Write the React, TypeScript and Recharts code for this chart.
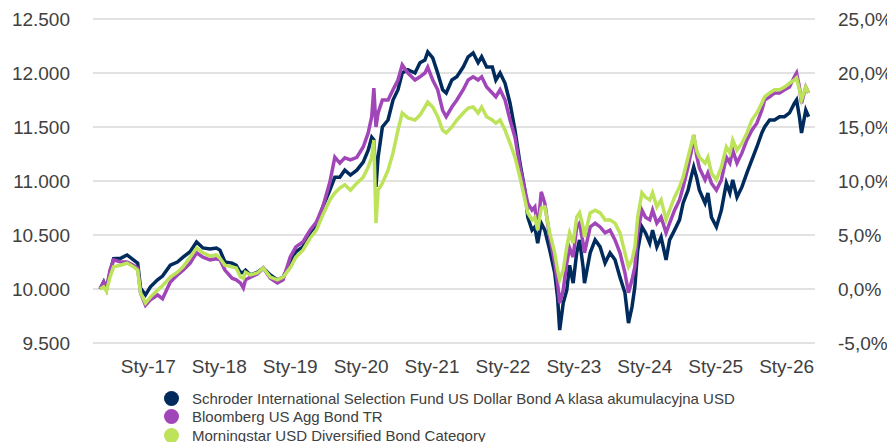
import React from "react"
import {
    LineChart,
    Line,
    XAxis,
    YAxis,
    CartesianGrid,
} from "recharts"

// decimal years
const dates = [
    2016.32, 2016.37, 2016.41, 2016.46, 2016.51, 2016.61, 2016.70, 2016.79, 2016.85, 2016.89,
    2016.96, 2017.03, 2017.13, 2017.20, 2017.31, 2017.41, 2017.49, 2017.59, 2017.68, 2017.77,
    2017.87, 2017.96, 2018.01, 2018.08, 2018.18, 2018.24, 2018.30, 2018.34, 2018.37, 2018.44,
    2018.54, 2018.62, 2018.72, 2018.82, 2018.90, 2019.00, 2019.08, 2019.18, 2019.28, 2019.37,
    2019.46, 2019.56, 2019.63, 2019.70, 2019.77, 2019.85, 2019.94, 2020.03, 2020.10, 2020.15,
    2020.18, 2020.21, 2020.24, 2020.30, 2020.38, 2020.45, 2020.52, 2020.58, 2020.66, 2020.76,
    2020.83, 2020.90, 2020.94, 2021.01, 2021.08, 2021.15, 2021.20, 2021.28, 2021.35, 2021.44,
    2021.51, 2021.58, 2021.65, 2021.70, 2021.77, 2021.85, 2021.90, 2021.96, 2022.03, 2022.10,
    2022.17, 2022.24, 2022.31, 2022.35, 2022.41, 2022.45, 2022.49, 2022.54, 2022.59, 2022.66,
    2022.73, 2022.77, 2022.80, 2022.85, 2022.90, 2022.94, 2022.99, 2023.04, 2023.08, 2023.13,
    2023.15, 2023.23, 2023.30, 2023.37, 2023.44, 2023.51, 2023.58, 2023.65, 2023.72, 2023.77,
    2023.82, 2023.86, 2023.90, 2023.96, 2024.01, 2024.07, 2024.11, 2024.17, 2024.23, 2024.30,
    2024.35, 2024.42, 2024.49, 2024.54, 2024.61, 2024.66, 2024.69, 2024.73, 2024.77, 2024.85,
    2024.89, 2024.94, 2025.01, 2025.08, 2025.15, 2025.20, 2025.24, 2025.30, 2025.37, 2025.44,
    2025.51, 2025.58, 2025.65, 2025.69, 2025.76, 2025.83, 2025.90, 2025.97, 2026.04, 2026.11,
    2026.14, 2026.18, 2026.21, 2026.27, 2026.31,
]

const schroder = [
    10000, 10065, 10000, 10155, 10280, 10285, 10315, 10270, 10240, 10010,
    9945, 10020, 10085, 10120, 10220, 10250, 10295, 10345, 10435, 10380,
    10370, 10380, 10360, 10250, 10240, 10220, 10150, 10155, 10175, 10130,
    10155, 10195, 10130, 10085, 10110, 10240, 10345, 10390, 10520, 10595,
    10760, 10915, 11035, 11035, 11100, 11055, 11100, 11175, 11285, 11405,
    11380, 10945, 11220, 11500, 11565, 11750, 11845, 12000, 12030, 12000,
    12095, 12120, 12195, 12140, 12000, 11845, 11815, 11935, 11965, 12055,
    12150, 12185, 12095, 12150, 12055, 12055, 11935, 12000, 11905, 11720,
    11470, 11165, 10915, 10665, 10545, 10575, 10425, 10610, 10545, 10360,
    10150, 9925, 9620, 9870, 9990, 10220, 10055, 10335, 10455, 10205,
    10055, 10335, 10455, 10390, 10240, 10335, 10270, 10110, 9965, 9685,
    9835, 10020, 10360, 10575, 10520, 10425, 10545, 10390, 10480, 10270,
    10455, 10545, 10640, 10795, 10915, 11055, 11130, 11035, 10915, 10795,
    10890, 10665, 10575, 10730, 10980, 10890, 11010, 10850, 10945, 11075,
    11195, 11315, 11445, 11500, 11565, 11565, 11595, 11595, 11630, 11720,
    11750, 11595, 11445, 11655, 11595,
]

const bloomberg = [
    10000, 10065, 10000, 10175, 10270, 10250, 10250, 10220, 10195, 9965,
    9850, 9900, 9945, 9910, 10065, 10130, 10175, 10240, 10335, 10295,
    10270, 10280, 10270, 10175, 10100, 10085, 10055, 10010, 10085, 10110,
    10140, 10195, 10100, 10055, 10085, 10295, 10390, 10435, 10545, 10620,
    10760, 10990, 11220, 11165, 11215, 11195, 11220, 11315, 11445, 11595,
    11860, 11500, 11630, 11750, 11750, 11845, 11935, 12075, 12000, 11935,
    11965, 12000, 12055, 11935, 11845, 11655, 11595, 11685, 11750, 11845,
    11935, 11965, 11935, 11965, 11870, 11815, 11780, 11845, 11750, 11565,
    11405, 11130, 10915, 10795, 10730, 10760, 10545, 10900, 10795, 10480,
    10240, 10055, 9870, 9990, 10240, 10380, 10295, 10575, 10610, 10425,
    10335, 10575, 10610, 10575, 10520, 10545, 10455, 10335, 10150, 9965,
    10085, 10205, 10520, 10730, 10665, 10640, 10730, 10610, 10665, 10520,
    10610, 10730, 10825, 10945, 11130, 11285, 11425, 11240, 11120, 11010,
    11075, 10980, 10915, 11010, 11220, 11165, 11285, 11165, 11260, 11380,
    11470, 11535, 11655, 11750, 11780, 11815, 11815, 11845, 11870, 11965,
    12000, 11870, 11720, 11870, 11815,
]

const morningstar = [
    10000, 10020, 9980, 10110, 10205, 10220, 10240, 10205, 10175, 9965,
    9870, 9925, 9990, 10030, 10110, 10155, 10205, 10295, 10380, 10335,
    10305, 10315, 10285, 10220, 10205, 10195, 10110, 10100, 10155, 10130,
    10150, 10195, 10110, 10085, 10110, 10195, 10295, 10360, 10470, 10545,
    10685, 10825, 10890, 10935, 10965, 10915, 10980, 11035, 11130, 11220,
    11380, 10610, 10915, 10980, 11100, 11260, 11470, 11630, 11585, 11565,
    11610, 11685, 11730, 11685, 11595, 11470, 11445, 11500, 11565, 11630,
    11675, 11685, 11630, 11685, 11595, 11565, 11535, 11565, 11470, 11350,
    11220, 11035, 10825, 10705, 10640, 10665, 10545, 10750, 10760, 10520,
    10335, 10175, 10085, 10175, 10390, 10520, 10425, 10665, 10705, 10575,
    10480, 10705, 10730, 10705, 10640, 10640, 10610, 10520, 10335, 10205,
    10270, 10390, 10665, 10890, 10850, 10825, 10890, 10760, 10825, 10640,
    10730, 10850, 10945, 11035, 11220, 11350, 11425, 11285, 11220, 11165,
    11220, 11075, 11010, 11130, 11315, 11260, 11380, 11285, 11350, 11445,
    11565, 11630, 11720, 11780, 11815, 11845, 11845, 11870, 11905, 11935,
    11955, 11845, 11750, 11870, 11815,
]

const xTicks = [2017, 2018, 2019, 2020, 2021, 2022, 2023, 2024, 2025, 2026]
const xTickLabels = ["Sty-17", "Sty-18", "Sty-19", "Sty-20", "Sty-21", "Sty-22", "Sty-23", "Sty-24", "Sty-25", "Sty-26"]
const leftTicks = [9500, 10000, 10500, 11000, 11500, 12000, 12500]
const rightTicks = [-5, 0, 5, 10, 15, 20, 25]

const seriesNames = [
    "Schroder International Selection Fund US Dollar Bond A klasa akumulacyjna USD",
    "Bloomberg US Agg Bond TR",
    "Morningstar USD Diversified Bond Category",
]
const seriesColors = ["#002b5c", "#a146b8", "#bde35a"]

const data = dates.map((t, i) => ({
    t,
    schroder: schroder[i],
    bloomberg: bloomberg[i],
    morningstar: morningstar[i],
    // same line as a % change, only to give the right axis a series
    schroderPct: (schroder[i] - 10000) / 100,
}))

const FONT = "Arial, 'Liberation Sans', sans-serif"
const TEXT = "#404040"

const fmtThousands = (v: number) => String(v).replace(/\B(?=(\d{3})+(?!\d))/g, ".")
const fmtPct = (v: number) => v.toFixed(1).replace(".", ",") + "%"
const fmtDate = (v: number) => xTickLabels[xTicks.indexOf(v)] ?? ""

export default function App() {
    return (
        <div style={{ position: "relative", width: 887, height: 434, fontFamily: FONT }}>
            <LineChart
                width={887}
                height={380}
                data={data}
                margin={{ top: 11, right: 0, left: 0, bottom: 0 }}
            >
                <CartesianGrid vertical={false} stroke="#e2e2e2" strokeWidth={2} />
                <XAxis
                    dataKey="t"
                    type="number"
                    domain={[2016.22, 2026.4]}
                    ticks={xTicks}
                    tickFormatter={fmtDate}
                    axisLine={false}
                    tickLine={false}
                    tickSize={0}
                    tickMargin={17}
                    height={45}
                    interval={0}
                    tick={{ fill: TEXT, fontSize: 19, fontFamily: FONT }}
                />
                <YAxis
                    domain={[9500, 12500]}
                    ticks={leftTicks}
                    tickFormatter={fmtThousands}
                    axisLine={false}
                    tickLine={false}
                    tickSize={0}
                    tickMargin={23}
                    width={85}
                    interval={0}
                    tick={{ fill: TEXT, fontSize: 19, fontFamily: FONT }}
                />
                <YAxis
                    yAxisId="pct"
                    orientation="right"
                    domain={[-5, 25]}
                    ticks={rightTicks}
                    tickFormatter={fmtPct}
                    axisLine={false}
                    tickLine={false}
                    tickSize={0}
                    tickMargin={23}
                    width={80}
                    interval={0}
                    tick={{ fill: TEXT, fontSize: 19, fontFamily: FONT, textAnchor: "start" }}
                />
                <Line
                    yAxisId="pct"
                    dataKey="schroderPct"
                    stroke="transparent"
                    strokeWidth={0}
                    dot={false}
                    activeDot={false}
                    isAnimationActive={false}
                />
                <Line
                    dataKey="schroder"
                    stroke={seriesColors[0]}
                    strokeWidth={3.5}
                    dot={false}
                    isAnimationActive={false}
                />
                <Line
                    dataKey="bloomberg"
                    stroke={seriesColors[1]}
                    strokeWidth={3.5}
                    dot={false}
                    isAnimationActive={false}
                />
                <Line
                    dataKey="morningstar"
                    stroke={seriesColors[2]}
                    strokeWidth={3.5}
                    dot={false}
                    isAnimationActive={false}
                />
            </LineChart>
            <div style={{ position: "absolute", left: 156, top: 381 }}>
                {seriesNames.map((name, i) => (
                    <div key={name} style={{ display: "flex", alignItems: "center", height: 18.5 }}>
                        <span
                            style={{
                                width: 15,
                                height: 15,
                                borderRadius: "50%",
                                background: seriesColors[i],
                                display: "inline-block",
                                marginRight: 13,
                            }}
                        />
                        <span style={{ fontSize: 15, color: TEXT, whiteSpace: "nowrap" }}>{name}</span>
                    </div>
                ))}
            </div>
        </div>
    )
}
